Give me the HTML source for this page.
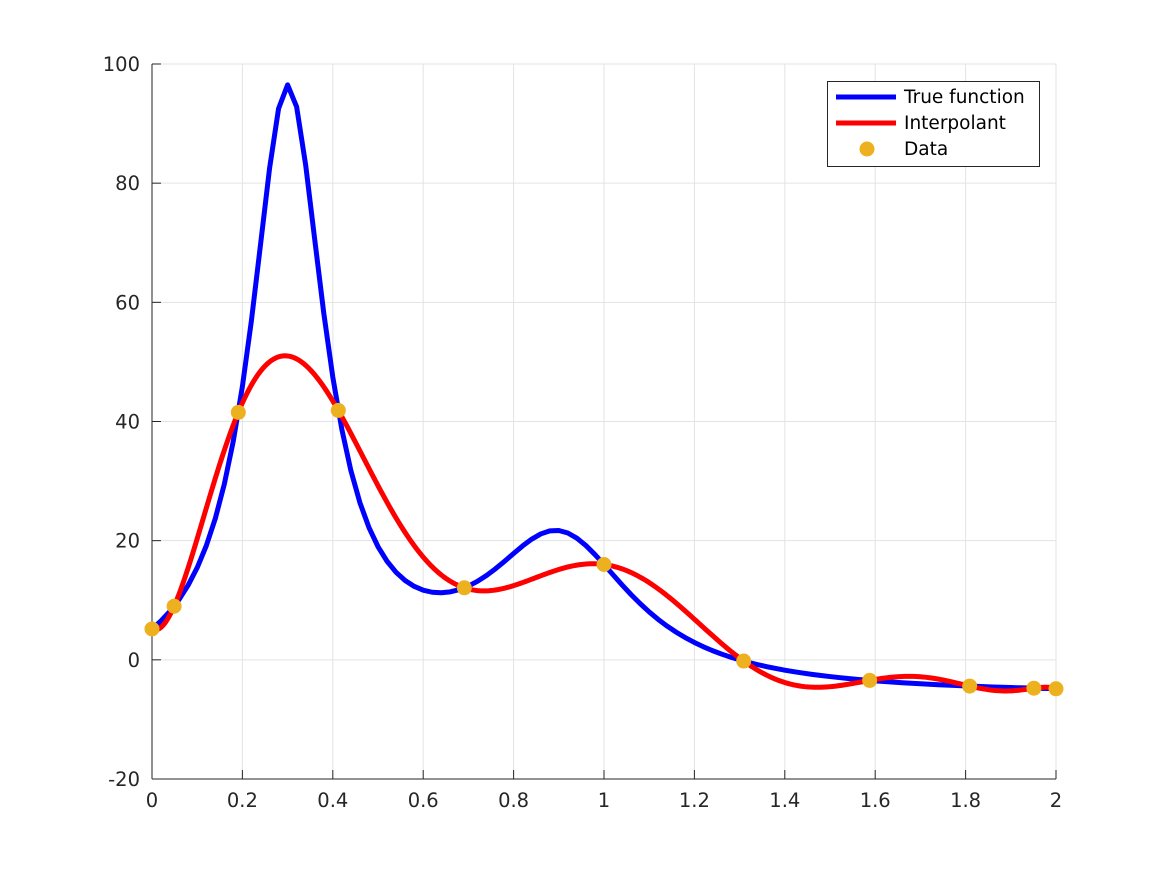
<!DOCTYPE html>
<html><head><meta charset="utf-8"><style>
html,body{margin:0;padding:0;background:#fff;}
svg{display:block;font-family:"DejaVu Sans","Liberation Sans",sans-serif;}
</style></head><body>
<svg id="s" width="1167" height="875" viewBox="0 0 1167 875" xmlns="http://www.w3.org/2000/svg">
<rect width="1167" height="875" fill="#fff"/>
<g id="grid" stroke="#e3e3e3" stroke-width="1"></g>
<g id="axes"></g>
<path id="tf" fill="none" stroke="#0000ff" stroke-width="5" stroke-linejoin="round"/>
<path id="ip" fill="none" stroke="#ff0000" stroke-width="5" stroke-linejoin="round"/>
<g id="dots" fill="#edb120"></g>
<g>
<rect x="827.5" y="81.5" width="212" height="85" fill="#fff" stroke="#262626" stroke-width="1"/>
<line x1="836" y1="97" x2="896" y2="97" stroke="#0000ff" stroke-width="5"/>
<line x1="836" y1="123" x2="896" y2="123" stroke="#ff0000" stroke-width="5"/>
<circle cx="867" cy="149" r="7.5" fill="#edb120"/>
<text x="904" y="103" font-size="18.5" fill="#000">True function</text>
<text x="904" y="129" font-size="18.5" fill="#000">Interpolant</text>
<text x="904" y="155" font-size="18.5" fill="#000">Data</text>
</g>
</svg>
<script>
var X=function(x){return 152+x*452;},Y=function(y){return 64+(100-y)*715/120;};
var ns="http://www.w3.org/2000/svg";
function el(p,t,a,txt){var e=document.createElementNS(ns,t);for(var k in a)e.setAttribute(k,a[k]);if(txt!==undefined)e.textContent=txt;p.appendChild(e);return e;}
var g=document.getElementById('grid'),ax=document.getElementById('axes');
for(var i=0;i<=10;i++){var x=X(i*0.2);el(g,'line',{x1:x,y1:64,x2:x,y2:779});
 el(ax,'line',{x1:x,y1:779,x2:x,y2:770,stroke:'#262626'});
 var lab=(i==0?'0':i==5?'1':i==10?'2':(i*0.2).toFixed(1));
 el(ax,'text',{x:x,y:807,'font-size':19.5,fill:'#262626','text-anchor':'middle'},lab);}
for(var j=-20;j<=100;j+=20){var y=Y(j);el(g,'line',{x1:152,y1:y,x2:1056,y2:y});
 el(ax,'line',{x1:152,y1:y,x2:161,y2:y,stroke:'#262626'});
 el(ax,'text',{x:140,y:y+7,'font-size':19.5,fill:'#262626','text-anchor':'end'},String(j));}
el(ax,'line',{x1:152,y1:64,x2:152,y2:779,stroke:'#262626','stroke-width':1});
el(ax,'line',{x1:152,y1:779,x2:1056,y2:779,stroke:'#262626','stroke-width':1});
function f(x){return 1/((x-.3)*(x-.3)+.01)+1/((x-.9)*(x-.9)+.04)-6;}
var n=10,xs=[],fs=[],w=[];
for(var k=0;k<=n;k++){xs.push(1-Math.cos(k*Math.PI/n));fs.push(f(xs[k]));w.push((k%2?-1:1)*((k==0||k==n)?0.5:1));}
function p(x){var num=0,den=0;for(var k=0;k<=n;k++){var d=x-xs[k];if(Math.abs(d)<1e-14)return fs[k];var t=w[k]/d;num+=t*fs[k];den+=t;}return num/den;}
var a='',b='';
for(var i=0;i<=100;i++){var x=i*0.02;a+=(i?'L':'M')+X(x).toFixed(2)+' '+Y(f(x)).toFixed(2);}
for(var i=0;i<=400;i++){var x=i*0.005;b+=(i?'L':'M')+X(x).toFixed(2)+' '+Y(p(x)).toFixed(2);}
document.getElementById('tf').setAttribute('d',a);
document.getElementById('ip').setAttribute('d',b);
var dg=document.getElementById('dots');
for(var k=0;k<=n;k++)el(dg,'circle',{cx:X(xs[k]),cy:Y(fs[k]),r:7.5});
</script>
</body></html>
